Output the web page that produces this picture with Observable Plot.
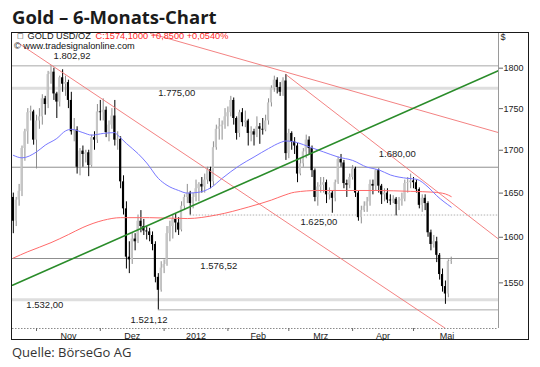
<!DOCTYPE html>
<html><head><meta charset="utf-8">
<script src="https://cdn.jsdelivr.net/npm/d3@7"></script>
<script src="https://cdn.jsdelivr.net/npm/@observablehq/plot@0.6"></script>
<style>
html,body{margin:0;padding:0;background:#fff;}
body{width:540px;height:367px;position:relative;overflow:hidden;}
#title{position:absolute;left:12px;top:4px;font:700 18.5px/25px "Open Sans",sans-serif;color:#1b1b1b;white-space:nowrap;}
#caption{position:absolute;left:12px;top:343px;font:400 13px/18px "Open Sans",sans-serif;color:#333;white-space:nowrap;}
#chart{position:absolute;left:0;top:30px;}
#frame{position:absolute;left:11px;top:32px;width:518px;height:308px;border:1.5px solid #1a1a1a;box-sizing:border-box;pointer-events:none;}
</style></head><body>
<div id="title">Gold – 6-Monats-Chart</div>
<div id="chart"></div>
<div id="frame"></div>
<div id="caption">Quelle: BörseGo AG</div>
<script>
// ---------- data (trading days from 2011-10-20 to 2012-05-18) ----------
const startDate = "2011-10-20";
const opens = [1645,1618,1642,1652,1702,1722,1745,1746,1712,1735,1740,1762,1755,1792,1795,1768,1758,1788,1780,1782,1760,1722,1724,1680,1699,1695,1697,1682,1715,1712,
1746,1745,1748,1721,1730,1741,1712,1713,1663,1632,1578,1575,1598,1595,1618,1612,1607,1606,1602,1592,1556,1542,
1566,1570,1604,1612,1620,1616,1608,1635,1645,1650,1638,1645,1655,1660,1657,1665,1677,1663,1703,1725,1728,1730,
1740,1745,1760,1738,1720,1745,1733,1735,1720,1722,1718,1728,1725,1724,1735,1757,1775,1785,1776,1770,1784,
1696,1720,1710,1705,1672,1684,1698,1712,1702,1676,1645,1657,1659,1662,1648,1650,1644,1662,1689,1685,1661,1659,
1668,1678,1650,1622,1630,1635,1640,1660,1658,1676,1658,1648,1650,1642,1641,1643,1637,1641,1643,1661,1662,
1664,1662,1654,1636,1644,1638,1605,1592,1595,1580,1559,1546,1538,1573.25];
const highs = [1650,1645,1660,1705,1725,1750,1753,1748,1742,1750,1767,1765,1796,1802.92,1800,1770,1790,1798,1790,1785,1770,1738,1728,1702,1705,1700,1700,1718,1722,1755,
1760,1762,1752,1735,1750,1760,1722,1716,1670,1640,1595,1605,1604,1625,1630,1620,1612,1610,1606,1595,1560,1573,
1575,1612,1618,1625,1626,1622,1640,1648,1660,1652,1650,1665,1662,1668,1672,1680,1680,1710,1730,1738,1735,1750,
1752,1765,1763,1740,1748,1750,1747,1737,1728,1725,1740,1732,1738,1742,1762,1778,1790,1788,1782,1788,1792,
1725,1722,1715,1708,1690,1702,1718,1716,1705,1678,1662,1668,1668,1665,1656,1652,1665,1692,1695,1688,1665,1672,
1682,1680,1652,1635,1640,1645,1665,1665,1677,1678,1660,1655,1655,1648,1647,1645,1645,1650,1665,1668,1672,
1668,1665,1656,1648,1648,1640,1608,1602,1600,1582,1565,1552,1575,1578];
const lows = [1604,1612,1635,1646,1687,1707,1735,1706,1678,1725,1730,1742,1750,1780,1760,1738,1752,1770,1765,1750,1718,1710,1672,1670,1680,1685,1669,1680,1700,1708,
1735,1735,1715,1710,1725,1705,1700,1655,1625,1565,1560,1570,1585,1593,1605,1602,1597,1595,1585,1550,1521.12,1540,
1560,1568,1595,1598,1605,1602,1606,1630,1638,1625,1632,1640,1640,1650,1650,1660,1655,1658,1700,1712,1712,1725,
1728,1740,1730,1712,1715,1728,1727,1705,1710,1705,1715,1707,1718,1722,1730,1752,1770,1768,1765,1765,1688,
1690,1700,1695,1662,1670,1680,1690,1695,1668,1640,1635,1650,1650,1638,1642,1627,1640,1660,1680,1655,1645,1655,
1665,1645,1618,1615,1628,1628,1635,1648,1652,1650,1637,1640,1638,1636,1638,1624,1630,1635,1640,1650,1655,
1655,1650,1632,1628,1630,1600,1585,1588,1572,1553,1540,1527,1534,1570];
const closes = [1618,1642,1652,1702,1722,1745,1746,1712,1735,1740,1762,1755,1792,1795,1768,1758,1788,1780,1782,1760,1722,1724,1680,1699,1695,1697,1682,1715,1712,1746,
1745,1748,1721,1730,1741,1712,1713,1663,1632,1578,1575,1598,1595,1618,1612,1607,1606,1602,1592,1556,1542,1566,
1570,1604,1612,1620,1616,1608,1635,1645,1650,1638,1645,1655,1660,1657,1665,1677,1663,1703,1725,1728,1730,1740,
1745,1760,1738,1720,1745,1733,1735,1720,1722,1718,1728,1725,1724,1735,1757,1775,1785,1776,1770,1784,1696,
1720,1710,1705,1672,1684,1698,1712,1702,1676,1645,1657,1659,1662,1648,1650,1644,1662,1689,1685,1661,1659,1668,
1678,1650,1622,1630,1635,1640,1660,1658,1676,1658,1648,1650,1642,1641,1643,1637,1641,1643,1661,1662,1664,
1662,1654,1636,1644,1638,1605,1592,1595,1580,1559,1546,1538,1573.25,1574.1];

// moving averages (trading-day index, value)
const blueDays = [0,3,8,11,15,18,20,24,27,31,35,36,39,43,46,50,53,57,60,64,68,72,78,83,88,92,94,98,102,107,112,117,122,126,130,136,139,143,146,151];
const blueVals = [1694,1691,1698,1706,1714,1723,1725,1721,1718,1720,1721,1718,1708,1696,1685,1667,1659,1653,1650,1651,1656,1667,1682,1692,1702,1709,1711,1709,1704,1698,1692,1688,1680,1677,1671,1667,1666,1657,1647,1634];
const redDays = [0,5,13,19,24,31,37,47,60,70,81,89,93,97,105,115,125,137,145,149,151];
const redVals = [1577,1584,1594,1603,1611,1619,1622,1622,1621,1625,1634,1642,1647,1651,1653,1653,1653,1652,1651,1649,1646];

// trend lines: [day index, price] end points
const trendA = [[1.8,1831.6],[149.0,1501.6]];
const trendB = [[47.3,1844],[167.3,1721]];
const trendC = [[94,1792],[167.3,1598]];
const trendGreen = [[-0.28,1547.4],[167.3,1797]];

// horizontal levels
const levels = [1802.92,1775,1680,1625,1576.52,1532,1521.12];
const levelFrom = [null,null,null,"2012-01-13",null,null,"2011-12-29"];

const yTicks = [1550,1600,1650,1700,1750,1800];
const monthLabels = ["Nov","Dez","2012","Feb","Mrz","Apr","Mai"];

// ---------- layout / styles ----------
const xDomain = [-0.28, 167.3];
const yDomain = [1501.5, 1844];
const levelStyle = ["thin","band","mid","dot","mid","band","thin"];
const levelLabelK = [13.9, 50, 126, 99, 64.5, 4.5, 40.4];
const levelLabelDy = [-10, 5, -13.5, 6.5, 7, 5.5, 10];
const styles = {
  thin: {stroke:"#a9a9a9", strokeWidth:1},
  band: {stroke:"#dedede", strokeWidth:3},
  mid:  {stroke:"#8f8f8f", strokeWidth:1},
  dot:  {stroke:"#b0b0b0", strokeWidth:1, strokeDasharray:"1.5,1.5"}
};

// weekday calendar
const cal = [];
{
  const d = new Date(startDate + "T00:00:00Z");
  while (cal.length < 170) {
    const wd = d.getUTCDay();
    if (wd !== 0 && wd !== 6) cal.push(new Date(d));
    d.setUTCDate(d.getUTCDate() + 1);
  }
}
const iso = d => d.toISOString().slice(0,10);
const kOf = s => cal.findIndex(d => iso(d) === s);
const monthStarts = [];
for (let k = 1; k < cal.length; k++) if (cal[k].getUTCMonth() !== cal[k-1].getUTCMonth()) monthStarts.push(k);
const tickKs = monthStarts.slice(0, monthLabels.length);
const labelKs = tickKs.map((s,i) => (s + monthStarts[i+1]) / 2);
const labelByK = new Map(labelKs.map((k,i) => [k, monthLabels[i]]));

const de = d3.formatLocale({decimal:",", thousands:".", grouping:[3], currency:["","€"]});
const fmt2 = de.format(",.2f");
const fmt4 = de.format(".4f");
const fmtS4 = de.format("+.4f");

const bars = closes.map((c,k) => ({k, o:opens[k], h:highs[k], l:lows[k], c, up: c >= opens[k]}));
const n = closes.length;
const last = closes[n-1], prev = closes[n-2];
const headRed = "C:" + fmt4(last) + " " + fmtS4(last - prev) + " " + fmtS4((last - prev) / prev * 100) + "%";

const blue = blueDays.map((k,i) => ({k, v: blueVals[i]}));
const red = redDays.map((k,i) => ({k, v: redVals[i]}));
const lv = levels.map((v,i) => ({
  v, from: levelFrom[i] ? kOf(levelFrom[i]) : xDomain[0], to: xDomain[1],
  style: levelStyle[i], label: fmt2(v), lk: levelLabelK[i], dy: levelLabelDy[i]
}));
const seg = p => p.map(([k,v]) => ({k, v}));

const font = "'Liberation Sans', Arial, sans-serif";

const marks = [
  // levels
  ...Object.keys(styles).map(s => Plot.ruleY(lv.filter(d => d.style === s), {y:"v", x1:"from", x2:"to", ...styles[s]})),
  // axis lines
  Plot.ruleY([yDomain[0]], {stroke:"#8a8a8a", strokeDasharray:"1.5,1.5"}),
  Plot.ruleX([xDomain[1]], {stroke:"#9a9a9a"}),
  // candles
  Plot.ruleX(bars, {x:"k", y1:"l", y2:"h", stroke: d => d.up ? "#8d8d8d" : "#000", strokeWidth:1}),
  Plot.rect(bars, {x1: d => d.k - 0.37, x2: d => d.k + 0.37, y1: d => Math.min(d.o, d.c), y2: d => Math.max(d.o, d.c), fill: d => d.up ? "#c6c6c6" : "#000"}),
  // moving averages
  Plot.line(red, {x:"k", y:"v", stroke:"#ff6a6a", strokeWidth:1, curve:"monotone-x"}),
  Plot.line(blue, {x:"k", y:"v", stroke:"#7878ff", strokeWidth:1, curve:"monotone-x"}),
  // trend lines
  Plot.line(seg(trendA), {x:"k", y:"v", stroke:"#f27474", strokeWidth:0.9, clip:true}),
  Plot.line(seg(trendB), {x:"k", y:"v", stroke:"#f27474", strokeWidth:0.9, clip:true}),
  Plot.line(seg(trendC), {x:"k", y:"v", stroke:"#f27474", strokeWidth:0.9, clip:true}),
  Plot.line(seg(trendGreen), {x:"k", y:"v", stroke:"#2a8c2a", strokeWidth:1.6, clip:true}),
  // level labels
  ...lv.map(d => Plot.text([d], {x:"lk", y:"v", dy:d.dy, text:"label", textAnchor:"start", lineAnchor:"middle", fontSize:9.5, fill:"#222", fontFamily:font})),
  // header
  Plot.text(["□"], {frameAnchor:"top-left", dx:4.5, dy:2.3, lineAnchor:"middle", textAnchor:"start", fontSize:7, fill:"#333", fontFamily:"'DejaVu Sans', sans-serif"}),
  Plot.text(["GOLD USD/OZ"], {frameAnchor:"top-left", dx:15, dy:2.4, lineAnchor:"middle", textAnchor:"start", fontSize:9.2, fill:"#111", fontFamily:font}),
  Plot.text([headRed], {frameAnchor:"top-left", dx:83, dy:2.4, lineAnchor:"middle", textAnchor:"start", fontSize:9.2, fill:"#ff2a2a", fontFamily:font}),
  Plot.text(["© www.tradesignalonline.com"], {frameAnchor:"top-left", dx:1.5, dy:12.2, lineAnchor:"middle", textAnchor:"start", fontSize:9.2, fill:"#111", fontFamily:font}),
  Plot.text(["$"], {frameAnchor:"top-right", dx:2, dy:0.5, lineAnchor:"top", textAnchor:"start", fontSize:9, fill:"#222", fontFamily:font}),
  // axes
  Plot.axisY({anchor:"right", ticks:yTicks, tickSize:4, tickPadding:1, tickFormat: d => String(d), fontSize:9, stroke:"#666", fill:"#222", fontFamily:font}),
  Plot.axisX({ticks:tickKs, tickSize:3, tickFormat: () => "", stroke:"#666"}),
  Plot.axisX({ticks:labelKs, tickSize:0, tickPadding:4, tickFormat: d => labelByK.get(d), fontSize:9, fill:"#222", fontFamily:font})
];

const chart = Plot.plot({
  width: 540, height: 314,
  marginLeft: 12, marginRight: 42, marginTop: 3, marginBottom: 16,
  x: {domain: xDomain, axis: null},
  y: {type: "log", domain: yDomain, axis: null},
  color: {type: "identity"},
  style: {fontFamily: font, fontSize: "9px", background: "transparent", overflow: "visible"},
  marks
});
document.getElementById("chart").appendChild(chart);
</script></body></html>
